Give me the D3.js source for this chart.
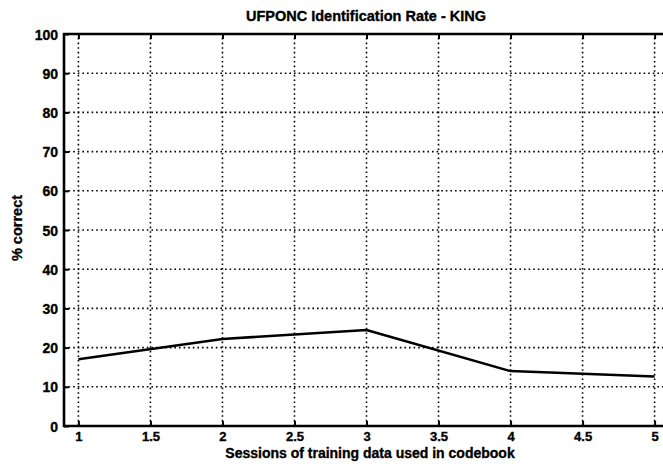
<!DOCTYPE html>
<html>
<head>
<meta charset="utf-8">
<script src="https://cdn.jsdelivr.net/npm/d3@7"></script>
<style>
  html, body { margin: 0; padding: 0; background: #fff; }
  svg text { font-family: "Liberation Sans", Arial, Helvetica, sans-serif; font-weight: bold; fill: #000; stroke: #000; stroke-width: 0.35; }
</style>
</head>
<body>
<svg id="chart" width="663" height="464"></svg>
<script>
// Training sessions used to build the codebook
const sessions = [1, 2, 3, 4, 5];
// Identification rate (% correct) per session count
const pctCorrect = [17, 22.2, 24.5, 14, 12.6];
// Axis tick values
const xTicks = [1, 1.5, 2, 2.5, 3, 3.5, 4, 4.5, 5];
const yTicks = [0, 10, 20, 30, 40, 50, 60, 70, 80, 90, 100];

const titleText = "UFPONC Identification Rate - KING";
const xLabelText = "Sessions of training data used in codebook";
const yLabelText = "% correct";

const svg = d3.select("#chart");
const plotL = 64, plotR = 669, plotT = 34, plotB = 426;

const x = d3.scaleLinear().domain([0.9, 5.1]).range([plotL, plotR]);
const y = d3.scaleLinear().domain([0, 100]).range([plotB, plotT]);

// dotted grid
const grid = svg.append("g")
  .attr("stroke", "#000").attr("stroke-width", 1.6)
  .attr("stroke-dasharray", "1.6,3").attr("fill", "none");
grid.selectAll("line.v").data(xTicks).join("line")
  .attr("x1", d => x(d)).attr("x2", d => x(d))
  .attr("y1", y(0)).attr("y2", y(100));
grid.selectAll("line.h").data(yTicks.filter(d => d > 0)).join("line")
  .attr("x1", plotL).attr("x2", plotR)
  .attr("y1", d => y(d)).attr("y2", d => y(d));

// axes with inward ticks
const xAxis = d3.axisBottom(x).tickValues(xTicks).tickSize(-5).tickPadding(6)
  .tickFormat(d => d3.format("~g")(d));
const gx = svg.append("g").attr("transform", `translate(0,${plotB})`).call(xAxis);
gx.select(".domain").remove();
gx.selectAll(".tick line").attr("stroke", "#000").attr("stroke-width", 2);
gx.selectAll(".tick text").attr("font-size", 13).attr("dy", "0.71em");

const xTop = d3.axisTop(x).tickValues(xTicks).tickSize(-5).tickFormat("");
const gxt = svg.append("g").attr("transform", `translate(0,${plotT})`).call(xTop);
gxt.select(".domain").remove();
gxt.selectAll(".tick line").attr("stroke", "#000").attr("stroke-width", 2);

const yAxis = d3.axisLeft(y).tickValues(yTicks).tickSize(-5).tickPadding(6);
const gy = svg.append("g").attr("transform", `translate(${plotL},0)`).call(yAxis);
gy.select(".domain").remove();
gy.selectAll(".tick line").attr("stroke", "#000").attr("stroke-width", 2);
gy.selectAll(".tick text").attr("font-size", 14).attr("dy", "0.36em");

// frame
svg.append("line").attr("x1", plotL).attr("x2", plotL).attr("y1", plotT - 1).attr("y2", plotB + 1)
  .attr("stroke", "#000").attr("stroke-width", 2.6);
svg.append("line").attr("x1", plotL - 1).attr("x2", 663).attr("y1", plotB).attr("y2", plotB)
  .attr("stroke", "#000").attr("stroke-width", 2.6);
svg.append("line").attr("x1", plotL - 1).attr("x2", 663).attr("y1", plotT).attr("y2", plotT)
  .attr("stroke", "#000").attr("stroke-width", 2.6);

// data line
const line = d3.line().x((d, i) => x(sessions[i])).y(d => y(d));
svg.append("path").datum(pctCorrect)
  .attr("d", line).attr("fill", "none")
  .attr("stroke", "#000").attr("stroke-width", 2.5).attr("stroke-linejoin", "round");

// labels
svg.append("text").attr("x", 366).attr("y", 21).attr("text-anchor", "middle")
  .attr("font-size", 14.5).text(titleText);
svg.append("text").attr("x", 370).attr("y", 458).attr("text-anchor", "middle")
  .attr("font-size", 14).text(xLabelText);
svg.append("text").attr("transform", `translate(22,228) rotate(-90)`)
  .attr("text-anchor", "middle").attr("font-size", 14.5).text(yLabelText);
</script>
</body>
</html>
